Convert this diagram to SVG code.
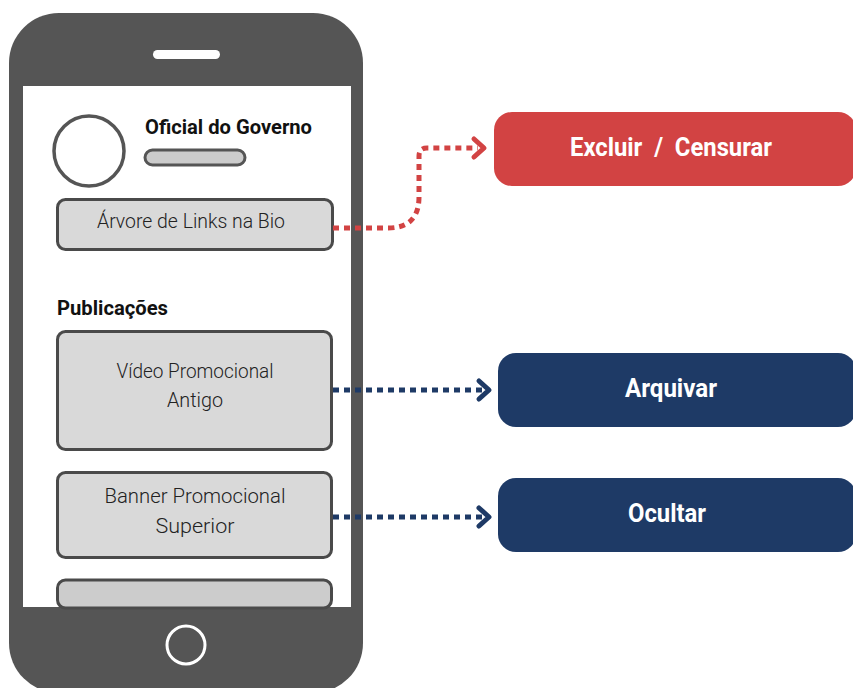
<svg xmlns="http://www.w3.org/2000/svg" width="853" height="688" viewBox="0 0 853 688">
<style>
.box{fill:#d9d9d9;stroke:#4a4a4a;stroke-width:3}
.lbl{font-family:Roboto,"Liberation Sans",sans-serif;font-size:20px;font-weight:300;fill:#222;text-anchor:middle}
.bold{font-family:Roboto,"Liberation Sans",sans-serif;font-weight:700;fill:#111}
.act{font-family:Roboto,"Liberation Sans",sans-serif;font-weight:700;font-size:25px;fill:#fff;text-anchor:middle}
.dot{fill:none;stroke-width:5;stroke-dasharray:6 5}
.chev{fill:none;stroke-width:5;stroke-linecap:round;stroke-linejoin:round}
</style>
<rect width="853" height="688" fill="#fff"/>
<g id="phone">
<rect x="9" y="13" width="354" height="680" rx="50" fill="#555"/>
<rect x="23" y="86" width="328" height="521" fill="#fff"/>
<rect x="153" y="50" width="67" height="9" rx="4.5" fill="#fff"/>
<circle cx="186" cy="645" r="19" fill="none" stroke="#fff" stroke-width="3"/>
</g>
<g id="profile">
<circle cx="89" cy="151" r="35" fill="#fff" stroke="#555" stroke-width="3.5"/>
<text class="bold" x="145" y="134" font-size="20" textLength="167" lengthAdjust="spacingAndGlyphs">Oficial do Governo</text>
<rect x="145" y="150" width="100" height="15" rx="7.5" fill="#ccc" stroke="#555" stroke-width="3"/>
</g>
<g id="links">
<rect class="box" x="57.5" y="199.5" width="275" height="50" rx="8"/>
<text class="lbl" x="191" y="228" textLength="188" lengthAdjust="spacingAndGlyphs">Árvore de Links na Bio</text>
</g>
<g id="pubs-title">
<text class="bold" x="57" y="315" font-size="20" textLength="111" lengthAdjust="spacingAndGlyphs">Publicações</text>
</g>
<g id="video">
<rect class="box" x="57.5" y="331.5" width="274" height="118" rx="8"/>
<text class="lbl" x="195" y="378" textLength="157" lengthAdjust="spacingAndGlyphs">Vídeo Promocional</text>
<text class="lbl" x="195" y="407" textLength="56" lengthAdjust="spacingAndGlyphs">Antigo</text>
</g>
<g id="banner">
<rect class="box" x="57.5" y="472.5" width="274" height="85" rx="8"/>
<text class="lbl" x="195" y="503" textLength="181" lengthAdjust="spacingAndGlyphs">Banner Promocional</text>
<text class="lbl" x="195" y="533" textLength="79" lengthAdjust="spacingAndGlyphs">Superior</text>
</g>
<g id="more">
<rect x="57.5" y="580" width="274" height="28" rx="8" fill="#ccc" stroke="#4a4a4a" stroke-width="3"/>
</g>
<g id="excluir">
<rect x="494" y="112" width="362" height="74" rx="18" fill="#d24343"/>
<text class="act" x="671" y="156" textLength="202" lengthAdjust="spacingAndGlyphs" xml:space="preserve">Excluir  /  Censurar</text>
</g>
<g id="arquivar">
<rect x="498" y="353" width="358" height="74" rx="18" fill="#1e3a66"/>
<text class="act" x="671" y="397" textLength="92" lengthAdjust="spacingAndGlyphs">Arquivar</text>
</g>
<g id="ocultar">
<rect x="498" y="478" width="358" height="74" rx="18" fill="#1e3a66"/>
<text class="act" x="667" y="522" textLength="78" lengthAdjust="spacingAndGlyphs">Ocultar</text>
</g>
<g id="connectors">
<path class="dot" stroke="#d24343" d="M333,228 H388 Q419,228 419,197 V156 Q419,148 427,148 H478"/>
<path class="chev" stroke="#d24343" d="M474,139 L484,148 L474,157"/>
<path class="dot" stroke="#1e3a66" d="M333,390 H482"/>
<path class="chev" stroke="#1e3a66" d="M479,381 L489,390 L479,399"/>
<path class="dot" stroke="#1e3a66" d="M333,517 H482"/>
<path class="chev" stroke="#1e3a66" d="M479,508 L489,517 L479,526"/>
</g>
</svg>
